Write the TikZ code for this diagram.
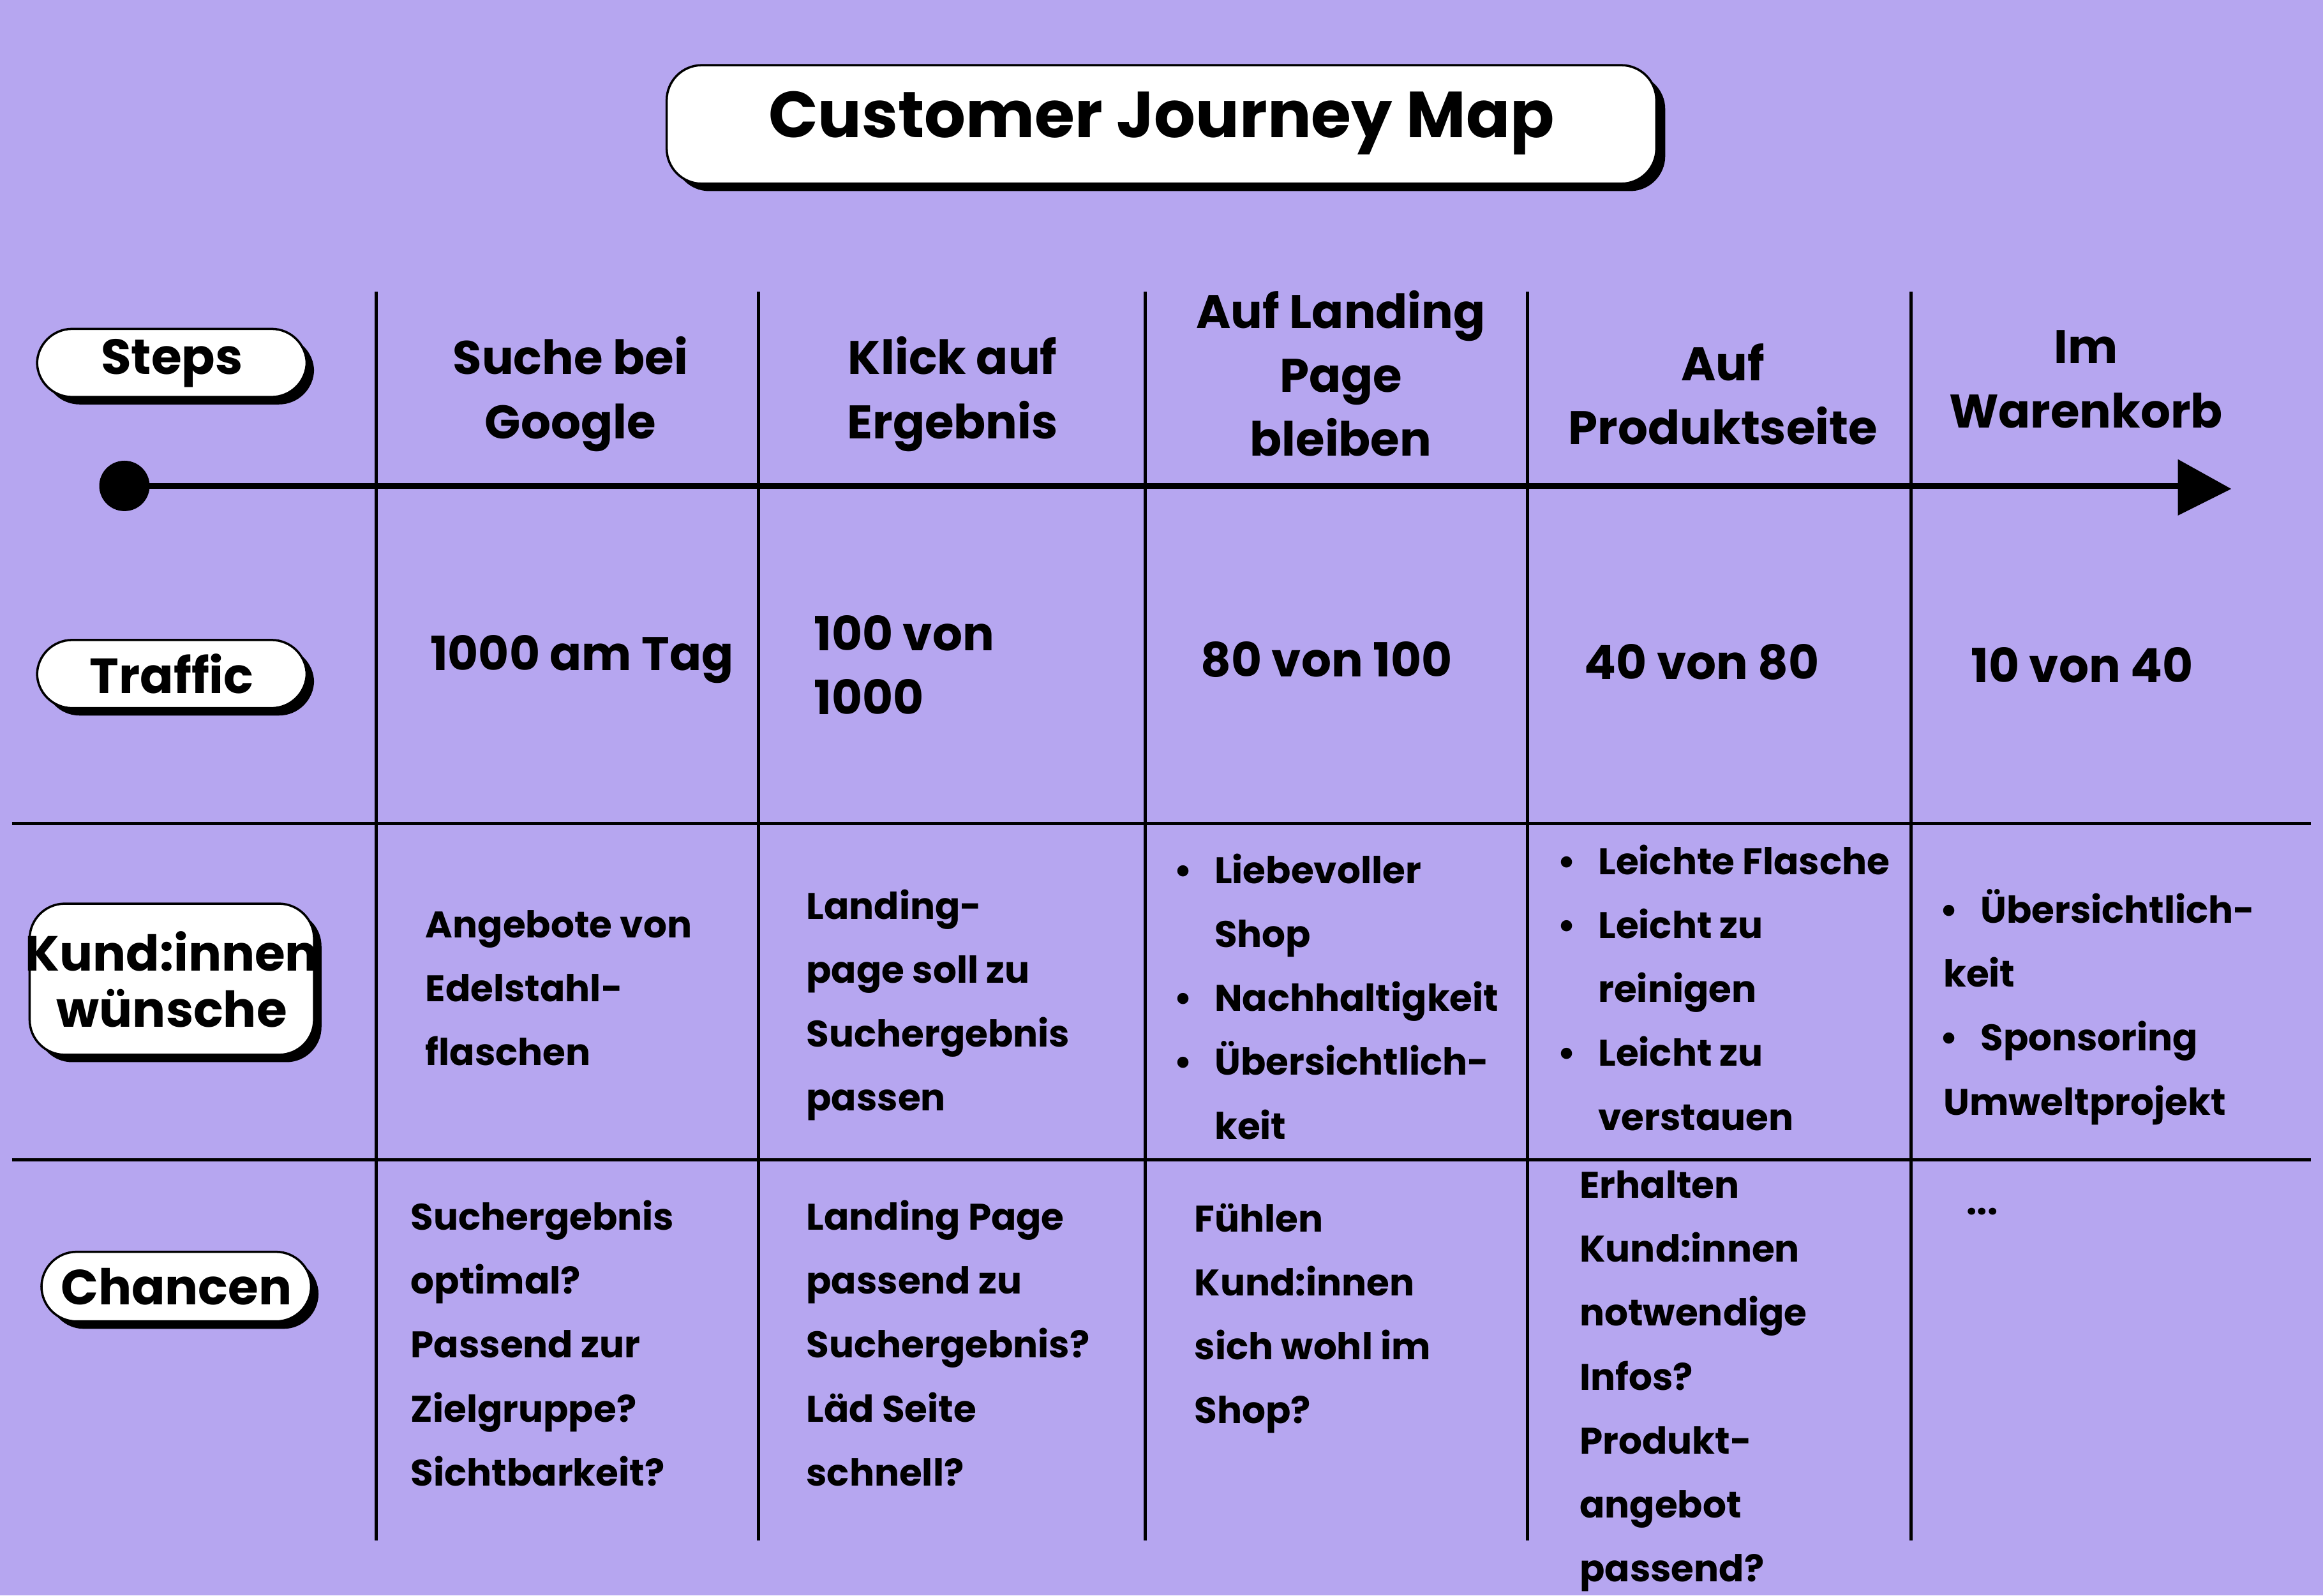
\documentclass[tikz,border=0pt]{standalone}
\usepackage{fontspec}
\setmainfont{Poppins}
\definecolor{bg}{HTML}{B6A6F0}
\newcommand{\bl}{•\hspace{0.6em}}
\newcommand{\ind}{\phantom{•}\hspace{0.6em}}
\begin{document}
\begin{tikzpicture}[x={(0.023214cm,0)},y={(0,-0.023214cm)},
  pill/.style={fill=white,rounded corners=0.55cm,inner sep=0pt},
  shad/.style={fill=black,rounded corners=0.55cm},
  hd/.style={font=\bfseries\fontsize{21}{28.5}\selectfont,align=center},
  bd/.style={font=\bfseries\fontsize{16.5}{28.5}\selectfont,align=left,anchor=north west,inner sep=0pt},
  grid/.style={line width=1.4pt}]
\fill[bg] (0,0) rectangle (1568,1077);
\useasboundingbox (0,0) rectangle (1568,1077);
% title
\fill[shad] (455,50) rectangle (1124,129);
\fill[pill,draw=black,line width=1pt] (450,44) rectangle (1118,124);
\node[font=\bfseries\fontsize{29}{34}\selectfont] (title) at (784,83) {Customer Journey Map};
% pills
\foreach \nm/\a/\b/\c/\d/\t in {steps/25/222/207/268/Steps,traffic/25/432/207/478/Traffic,kund/20/610/212/712/{Kund:innen\\wünsche},chancen/28/845/210/892/Chancen}{
  \fill[shad] (\a+5,\b+5) rectangle (\c+5,\d+5);
  \fill[pill,draw=black,line width=1pt] (\a,\b) rectangle (\c,\d);
  \node[hd,font=\bfseries\fontsize{22}{25}\selectfont] (\nm) at ({(\a+\c)/2},{(\b+\d)/2}) {\t};
}
% grid
\foreach \x in {254,512,773,1031,1290} \draw[grid] (\x,197) -- (\x,1040);
\coordinate (hl1) at (8,556); \coordinate (hr1) at (1560,556);
\coordinate (hl2) at (8,783); \coordinate (hr2) at (1560,783);
\draw[grid] (hl1) -- (hr1); \draw[grid] (hl2) -- (hr2);
% timeline
\fill (84,328) circle (17);
\coordinate (as) at (84,328); \coordinate (ae) at (1472,328);
\draw[line width=2.6pt] (as) -- (ae);
\fill (1470,310) -- (1506,330) -- (1470,348) -- cycle;
% headers
\node[hd] (h1) at (385,266) {Suche bei\\Google};
\node[hd] (h2) at (643,266) {Klick auf\\Ergebnis};
\node[hd] (h3) at (905,252) {Auf Landing\\Page\\bleiben};
\node[hd] (h4) at (1163,266) {Auf\\Produktseite};
\node[hd] (h5) at (1408,256) {Im\\Warenkorb};
% traffic
\node[hd,anchor=west] (t1) at (285,445) {1000 am Tag};
\node[hd,anchor=west,align=left] (t2) at (544,449) {100 von\\1000};
\node[hd,anchor=west] (t3) at (805,445) {80 von 100};
\node[hd,anchor=west] (t4) at (1064,447) {40 von 80};
\node[hd,anchor=west] (t5) at (1325,449) {10 von 40};
% wishes
\node[bd] (w1) at (287,614) {Angebote von\\Edelstahl-\\flaschen};
\node[bd] (w2) at (544,600) {Landing-\\page soll zu\\Suchergebnis\\passen};
\node[bd] (w3) at (792,576) {\bl Liebevoller\\\ind Shop\\\bl Nachhaltigkeit\\\bl Übersichtlich-\\\ind keit};
\node[bd] (w4) at (1051,570) {\bl Leichte Flasche\\\bl Leicht zu\\\ind reinigen\\\bl Leicht zu\\\ind verstauen};
\node[bd] (w5) at (1309,600) {\bl Übersichtlich-\\\hspace{0.1em}keit\\\bl Sponsoring\\\hspace{0.1em}Umweltprojekt};
% chances
\node[bd] (c1) at (277,810) {Suchergebnis\\optimal?\\Passend zur\\Zielgruppe?\\Sichtbarkeit?};
\node[bd] (c2) at (544,810) {Landing Page\\passend zu\\Suchergebnis?\\Läd Seite\\schnell?};
\node[bd] (c3) at (806,812) {Fühlen\\Kund:innen\\sich wohl im\\Shop?};
\node[bd] (c4) at (1066,790) {Erhalten\\Kund:innen\\notwendige\\Infos?\\Produkt-\\angebot\\passend?};
\node[bd] (c5) at (1327,815) {...};
\end{tikzpicture}
\end{document}
